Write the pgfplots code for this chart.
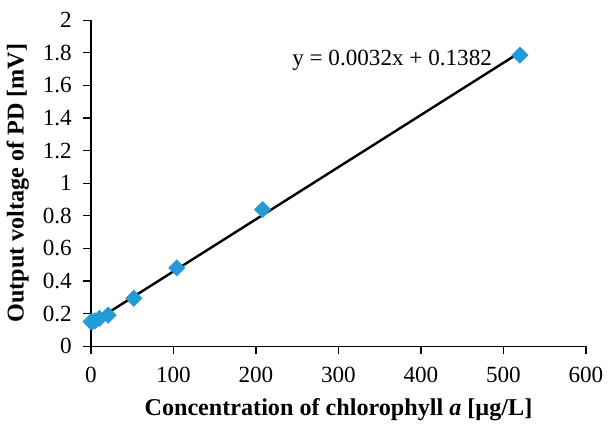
\documentclass[border=0pt]{standalone}
\usepackage{fontspec}
\setmainfont{Liberation Serif}
\usepackage{pgfplots}
\pgfplotsset{compat=1.18}
\definecolor{ptblue}{RGB}{35,155,215}
\begin{document}
\begin{tikzpicture}
\begin{axis}[
  scale only axis,
  width=246pt, height=162pt,
  xmin=0, xmax=600, ymin=0, ymax=2,
  xtick={0,100,...,600},
  ytick={0,0.2,...,2.01},
  yticklabel style={/pgf/number format/fixed,/pgf/number format/precision=1},
  /pgf/number format/assume math mode=true,
  axis x line=bottom, axis y line=left,
  axis line style={-, line width=0.6pt},
  tick align=outside,
  major tick length=4pt,
  tick style={line width=0.6pt, black},
  ticklabel style={font=\fontsize{11.5}{13}\selectfont},
  xticklabel style={yshift=-3pt},
  yticklabel style={xshift=-2pt},
  xlabel={\textbf{Concentration of chlorophyll \textit{a} [µg/L]}},
  ylabel={\textbf{Output voltage of PD [mV]}},
  label style={font=\fontsize{12}{14}\selectfont},
  xlabel style={yshift=-1pt},
  ylabel style={yshift=0pt},
  clip=false,
]
\addplot[only marks, mark=square*, mark options={rotate=45}, mark size=2.8pt, color=ptblue] coordinates {
  (0,0.15) (2.08,0.15) (5.2,0.155) (10.4,0.17) (20.8,0.19)
  (52,0.293) (104,0.48) (208,0.838) (520,1.785)
};
\addplot[black, line width=1.2pt] coordinates {(0,0.1382) (520,1.8022)};
\node[font=\fontsize{11.5}{13}\selectfont] at (axis cs:365,1.755) {y = 0.0032x + 0.1382};
\path (rel axis cs:0,1) ++(0,10pt) coordinate (topx);
\path (topx) ++(0,0);
\end{axis}
\end{tikzpicture}
\end{document}
